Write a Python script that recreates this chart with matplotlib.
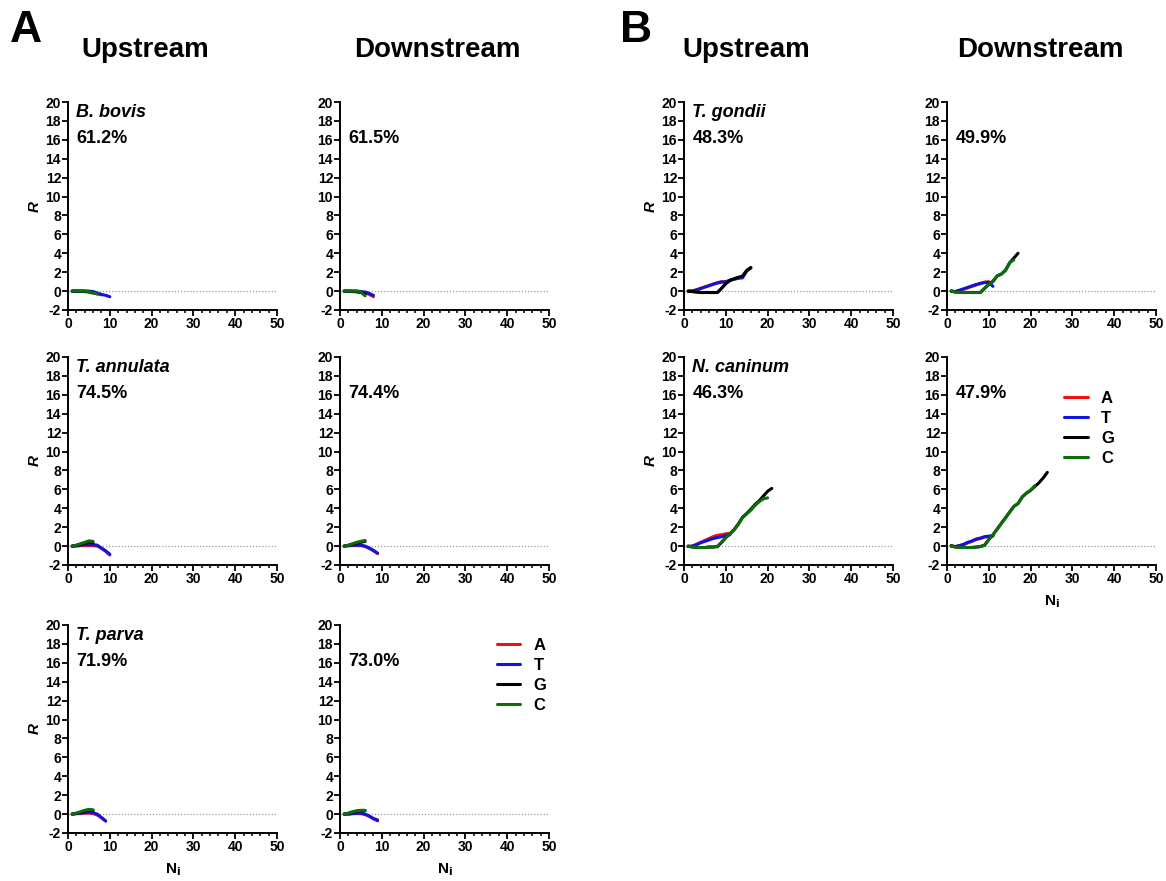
import numpy as np
import matplotlib.pyplot as plt

plt.rcParams['font.family'] = ['Liberation Sans', 'DejaVu Sans']
plt.rcParams['font.weight'] = 'bold'
plt.rcParams['axes.unicode_minus'] = False

bases = ["A", "T", "G", "C"]
colors = {"A": "#ee1111", "T": "#1212dd", "G": "#000000", "C": "#0b6e0b"}

# R values at Ni = 1, 2, 3, ...
bbovis_up = {
    "A": [0, 0, 0, 0, -0.05, -0.1, -0.3, -0.4],
    "T": [0, 0, 0, 0, 0, -0.05, -0.2, -0.35, -0.45, -0.6],
    "G": [0, -0.02, -0.03, -0.05, -0.1, -0.2],
    "C": [0, 0, 0, 0, -0.05, -0.2, -0.3],
}
bbovis_down = {
    "A": [0, 0, 0, -0.05, -0.1, -0.2, -0.35, -0.6],
    "T": [0, 0, 0, 0, -0.05, -0.1, -0.25, -0.45],
    "G": [0, -0.02, -0.05, -0.08, -0.15, -0.3],
    "C": [0, 0, 0, 0, -0.1, -0.5],
}
tannulata_up = {
    "A": [0, 0, 0.05, 0.05, 0.05, 0.05, 0, -0.25, -0.55, -0.95],
    "T": [0, 0.05, 0.1, 0.15, 0.15, 0.15, 0.1, -0.2, -0.5, -0.85],
    "G": [0, 0.08, 0.18, 0.3, 0.4, 0.35],
    "C": [0, 0.1, 0.25, 0.4, 0.55, 0.5],
}
tannulata_down = {
    "A": [0, 0.05, 0.05, 0.05, 0.05, -0.05, -0.25, -0.5, -0.8],
    "T": [0, 0.05, 0.1, 0.1, 0.1, 0, -0.2, -0.45, -0.75],
    "G": [0, 0.08, 0.2, 0.3, 0.4, 0.5],
    "C": [0, 0.1, 0.25, 0.4, 0.5, 0.6],
}
tparva_up = {
    "A": [0, 0.05, 0.05, 0.1, 0.1, 0.05, -0.1, -0.4, -0.7],
    "T": [0, 0.05, 0.1, 0.15, 0.2, 0.15, 0, -0.35, -0.75],
    "G": [0, 0.08, 0.2, 0.32, 0.4, 0.38],
    "C": [0, 0.1, 0.25, 0.4, 0.5, 0.45],
}
tparva_down = {
    "A": [0, 0, 0.05, 0.05, 0.05, -0.05, -0.25, -0.45, -0.6],
    "T": [0, 0, 0.05, 0.1, 0.1, 0, -0.2, -0.5, -0.7],
    "G": [0, 0.08, 0.2, 0.3, 0.35, 0.35],
    "C": [0, 0.1, 0.25, 0.35, 0.4, 0.4],
}
tgondii_up = {
    "A": [-0.05, 0, 0.15, 0.3, 0.45, 0.6, 0.75, 0.9, 1.0, 0.95, 1.1],
    "T": [0, 0.02, 0.12, 0.27, 0.42, 0.57, 0.72, 0.85, 0.95, 1.0, 1.15,
          1.25, 1.35, 1.4, 2.1, 2.45],
    "G": [0, -0.05, -0.1, -0.15, -0.15, -0.15, -0.15, -0.15, 0.3, 0.8,
          1.15, 1.3, 1.45, 1.6, 2.2, 2.5],
    "C": [0, -0.05, -0.1, -0.15, -0.15, -0.15, -0.15, -0.15, 0.3, 0.8,
          1.1, 1.3, 1.45],
}
tgondii_down = {
    "A": [0, -0.05, 0.05, 0.2, 0.35, 0.5, 0.65, 0.8, 0.95, 1.0],
    "T": [0, -0.05, 0.1, 0.25, 0.4, 0.55, 0.7, 0.82, 0.9, 0.9, 0.5],
    "G": [0, -0.1, -0.15, -0.15, -0.15, -0.15, -0.15, -0.15, 0.3, 0.7,
          1.05, 1.6, 1.8, 2.2, 3.0, 3.5, 4.0],
    "C": [0, -0.1, -0.15, -0.15, -0.15, -0.15, -0.15, -0.15, 0.3, 0.7,
          1.0, 1.6, 1.8, 2.2, 3.0, 3.3],
}
ncaninum_up = {
    "A": [-0.05, 0, 0.2, 0.4, 0.6, 0.8, 1.0, 1.15, 1.2, 1.3, 1.35],
    "T": [-0.05, 0, 0.15, 0.35, 0.5, 0.65, 0.8, 0.9, 1.0, 1.1, 1.2],
    "G": [0, -0.1, -0.15, -0.15, -0.15, -0.1, -0.1, -0.05, 0.4, 0.9,
          1.3, 1.75, 2.35, 3.05, 3.45, 3.9, 4.4, 4.8, 5.3, 5.8, 6.1],
    "C": [0, -0.1, -0.15, -0.15, -0.15, -0.1, -0.1, -0.05, 0.4, 0.9,
          1.3, 1.7, 2.3, 3.0, 3.4, 3.8, 4.3, 4.7, 5.0, 5.1],
}
ncaninum_down = {
    "A": [0, -0.05, 0.05, 0.15, 0.35, 0.5, 0.7, 0.8, 0.95, 1.0, 1.05],
    "T": [0, -0.05, 0.05, 0.2, 0.4, 0.55, 0.75, 0.85, 1.0, 1.05, 1.1],
    "G": [0.05, -0.1, -0.15, -0.15, -0.15, -0.15, -0.1, -0.05, 0.1, 0.7,
          1.2, 1.8, 2.4, 3.0, 3.6, 4.2, 4.5, 5.2, 5.6, 5.9, 6.3, 6.7,
          7.2, 7.8],
    "C": [0.05, -0.1, -0.15, -0.15, -0.15, -0.15, -0.1, -0.05, 0.1, 0.7,
          1.2, 1.8, 2.4, 3.0, 3.6, 4.2, 4.5, 5.2, 5.6, 5.9, 6.4],
}

# (data, species, percent, left px, top px, ylabel, xlabel, legend)
W, H = 1166, 881
panels = [
    (bbovis_up, "B. bovis", "61.2%", 68, 102, True, False, None),
    (bbovis_down, None, "61.5%", 340, 102, False, False, None),
    (tannulata_up, "T. annulata", "74.5%", 68, 357, True, False, None),
    (tannulata_down, None, "74.4%", 340, 357, False, False, None),
    (tparva_up, "T. parva", "71.9%", 68, 625, True, True, None),
    (tparva_down, None, "73.0%", 340, 625, False, True, (0.68, 1.01)),
    (tgondii_up, "T. gondii", "48.3%", 684, 102, True, False, None),
    (tgondii_down, None, "49.9%", 947, 102, False, False, None),
    (ncaninum_up, "N. caninum", "46.3%", 684, 357, True, False, None),
    (ncaninum_down, None, "47.9%", 947, 357, False, True, (0.49, 0.91)),
]
ax_w, ax_h = 209, 208

fig = plt.figure(figsize=(W / 100, H / 100), dpi=100)

for data, species, pct, left, top, ylab, xlab, leg in panels:
    ax = fig.add_axes([left / W, 1 - (top + ax_h) / H, ax_w / W, ax_h / H])
    ax.axhline(0, color="#999999", ls=(0, (1, 1.5)), lw=0.9, zorder=1)
    order = ["A", "T", "C", "G"] if data is tgondii_up else bases
    for b in order:
        r = data[b]
        ni = np.arange(1, len(r) + 1)
        ax.plot(ni, r, color=colors[b], lw=2.2, label=b, zorder=2,
                solid_capstyle="round")
    ax.set_xlim(0, 50)
    ax.set_ylim(-2, 20)
    ax.set_xticks(np.arange(0, 51, 10))
    ax.set_xticks(np.arange(0, 51, 2), minor=True)
    ax.set_yticks(np.arange(-2, 21, 2))
    for s in ["top", "right"]:
        ax.spines[s].set_visible(False)
    for s in ["left", "bottom"]:
        ax.spines[s].set_linewidth(1.4)
    ax.tick_params(which="major", length=4, width=1.3, labelsize=10, pad=1)
    ax.tick_params(which="minor", length=2.5, width=1.1)
    for t in ax.get_xticklabels() + ax.get_yticklabels():
        t.set_fontweight("bold")
    if species:
        ax.text(0.04, 0.99, species, transform=ax.transAxes, fontsize=13,
                fontweight="bold", style="italic", va="top", ha="left")
    ax.text(0.04, 0.865, pct, transform=ax.transAxes, fontsize=13,
            fontweight="bold", va="top", ha="left")
    if ylab:
        ax.set_ylabel("R", fontsize=11, fontweight="bold", style="italic",
                      labelpad=3)
    if xlab:
        ax.set_xlabel("N$_\\mathbf{i}$", fontsize=11, fontweight="bold",
                      labelpad=5)
    if leg:
        handles, labels = ax.get_legend_handles_labels()
        idx = [labels.index(b) for b in bases]
        ax.legend([handles[i] for i in idx], bases, loc="upper left",
                  bbox_to_anchor=leg, frameon=False,
                  handlelength=1.4, handletextpad=0.8, labelspacing=0.3,
                  prop={"weight": "bold", "size": 12})

fig.text(10 / W, 1 - 30 / H, "A", fontsize=32, fontweight="bold",
         va="center", ha="left")
fig.text(620 / W, 1 - 30 / H, "B", fontsize=32, fontweight="bold",
         va="center", ha="left")
for cx, lab in [(145, "Upstream"), (437, "Downstream"),
                (746, "Upstream"), (1040, "Downstream")]:
    fig.text(cx / W, 1 - 50 / H, lab, fontsize=20, fontweight="bold",
             va="center", ha="center")

fig.savefig("out.png", dpi=100)
